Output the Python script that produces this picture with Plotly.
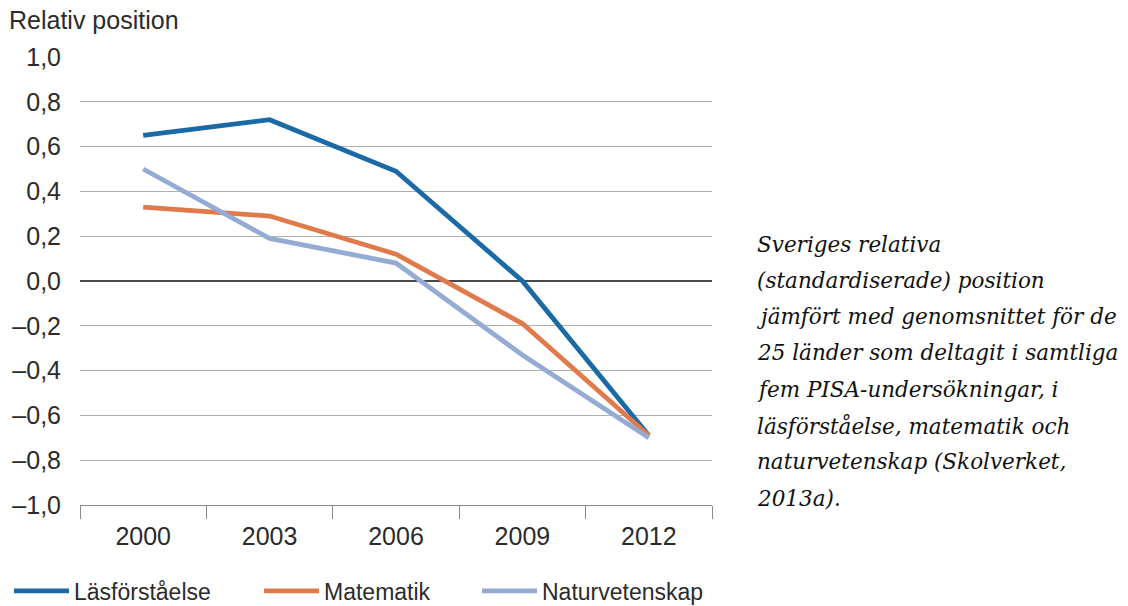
import plotly.graph_objects as go

# PISA rounds and Sweden's standardised position per subject
years = ["2000", "2003", "2006", "2009", "2012"]
lasforstaelse = [0.65, 0.72, 0.49, 0.00, -0.69]
matematik = [0.33, 0.29, 0.12, -0.19, -0.69]
naturvetenskap = [0.50, 0.19, 0.08, -0.33, -0.70]

y_ticks = [1.0, 0.8, 0.6, 0.4, 0.2, 0.0, -0.2, -0.4, -0.6, -0.8, -1.0]
y_tick_text = ["1,0", "0,8", "0,6", "0,4", "0,2", "0,0",
               "–0,2", "–0,4", "–0,6", "–0,8", "–1,0"]

caption_lines = [
    "Sveriges relativa",
    "(standardiserade) position",
    "jämfört med genomsnittet för de",
    "25 länder som deltagit i samtliga",
    "fem PISA-undersökningar, i",
    "läsförståelse, matematik och",
    "naturvetenskap (Skolverket,",
    "2013a).",
]

series = [
    ("Läsförståelse", lasforstaelse, "#1a6aa6", "legend", 9),
    ("Matematik", matematik, "#e07a4a", "legend2", 259),
    ("Naturvetenskap", naturvetenskap, "#94acd3", "legend3", 477),
]

W, H = 1128, 606
L, R, T, B = 80, 416, 57, 101
plot_w, plot_h = W - L - R, H - T - B

text_color = "#2b2b2b"
font_family = "Liberation Sans, Arial, sans-serif"

fig = go.Figure()
for name, values, color, legend_id, _ in series:
    fig.add_trace(go.Scatter(
        x=years, y=values, name=name, mode="lines", legend=legend_id,
        line=dict(color=color, width=4.8),
    ))

# one legend box per series so each entry can sit at its own spot
legends = {}
for name, values, color, legend_id, left_px in series:
    legends[legend_id] = dict(
        orientation="h", xref="container", yref="container",
        x=left_px / W, xanchor="left", y=15 / H, yanchor="middle",
        font=dict(size=23, color=text_color), itemwidth=55,
        bgcolor="rgba(0,0,0,0)",
    )

annotations = [
    dict(text="Relativ position", xref="paper", yref="paper",
         x=(7 - L) / plot_w, y=1 + (T - 20) / plot_h,
         xanchor="left", yanchor="middle", showarrow=False,
         font=dict(size=25, color=text_color)),
]
for i, line in enumerate(caption_lines):
    y_px = 244 + 36.3 * i
    annotations.append(dict(
        text=line, xref="paper", yref="paper",
        x=(755 - L) / plot_w, y=1 - (y_px - T) / plot_h,
        xanchor="left", yanchor="middle", align="left", showarrow=False,
        font=dict(family="DejaVu Serif", size=21.5, color="#111111", style="italic"),
    ))

fig.update_layout(
    width=W, height=H,
    margin=dict(l=L, r=R, t=T, b=B, autoexpand=False),
    paper_bgcolor="white", plot_bgcolor="white",
    font=dict(family=font_family, size=25, color=text_color),
    showlegend=True,
    xaxis=dict(
        type="category", range=[-0.5, 4.5],
        showgrid=False, showline=True, linecolor="#8a8a8a", linewidth=1.2,
        ticks="outside", tickson="boundaries", ticklen=13, tickcolor="#8a8a8a",
        tickwidth=1.2, tickfont=dict(size=25), ticklabelstandoff=9,
        fixedrange=True,
    ),
    yaxis=dict(
        range=[-1.0, 1.0], tickvals=y_ticks, ticktext=y_tick_text,
        showgrid=True, gridcolor="#b0b0aa", gridwidth=1.3,
        zeroline=True, zerolinecolor="#4a4a4a", zerolinewidth=2,
        showline=False, ticks="", tickfont=dict(size=25),
        ticklabelstandoff=18, fixedrange=True,
    ),
    annotations=annotations,
    **legends,
)

fig.write_html("out.html")
